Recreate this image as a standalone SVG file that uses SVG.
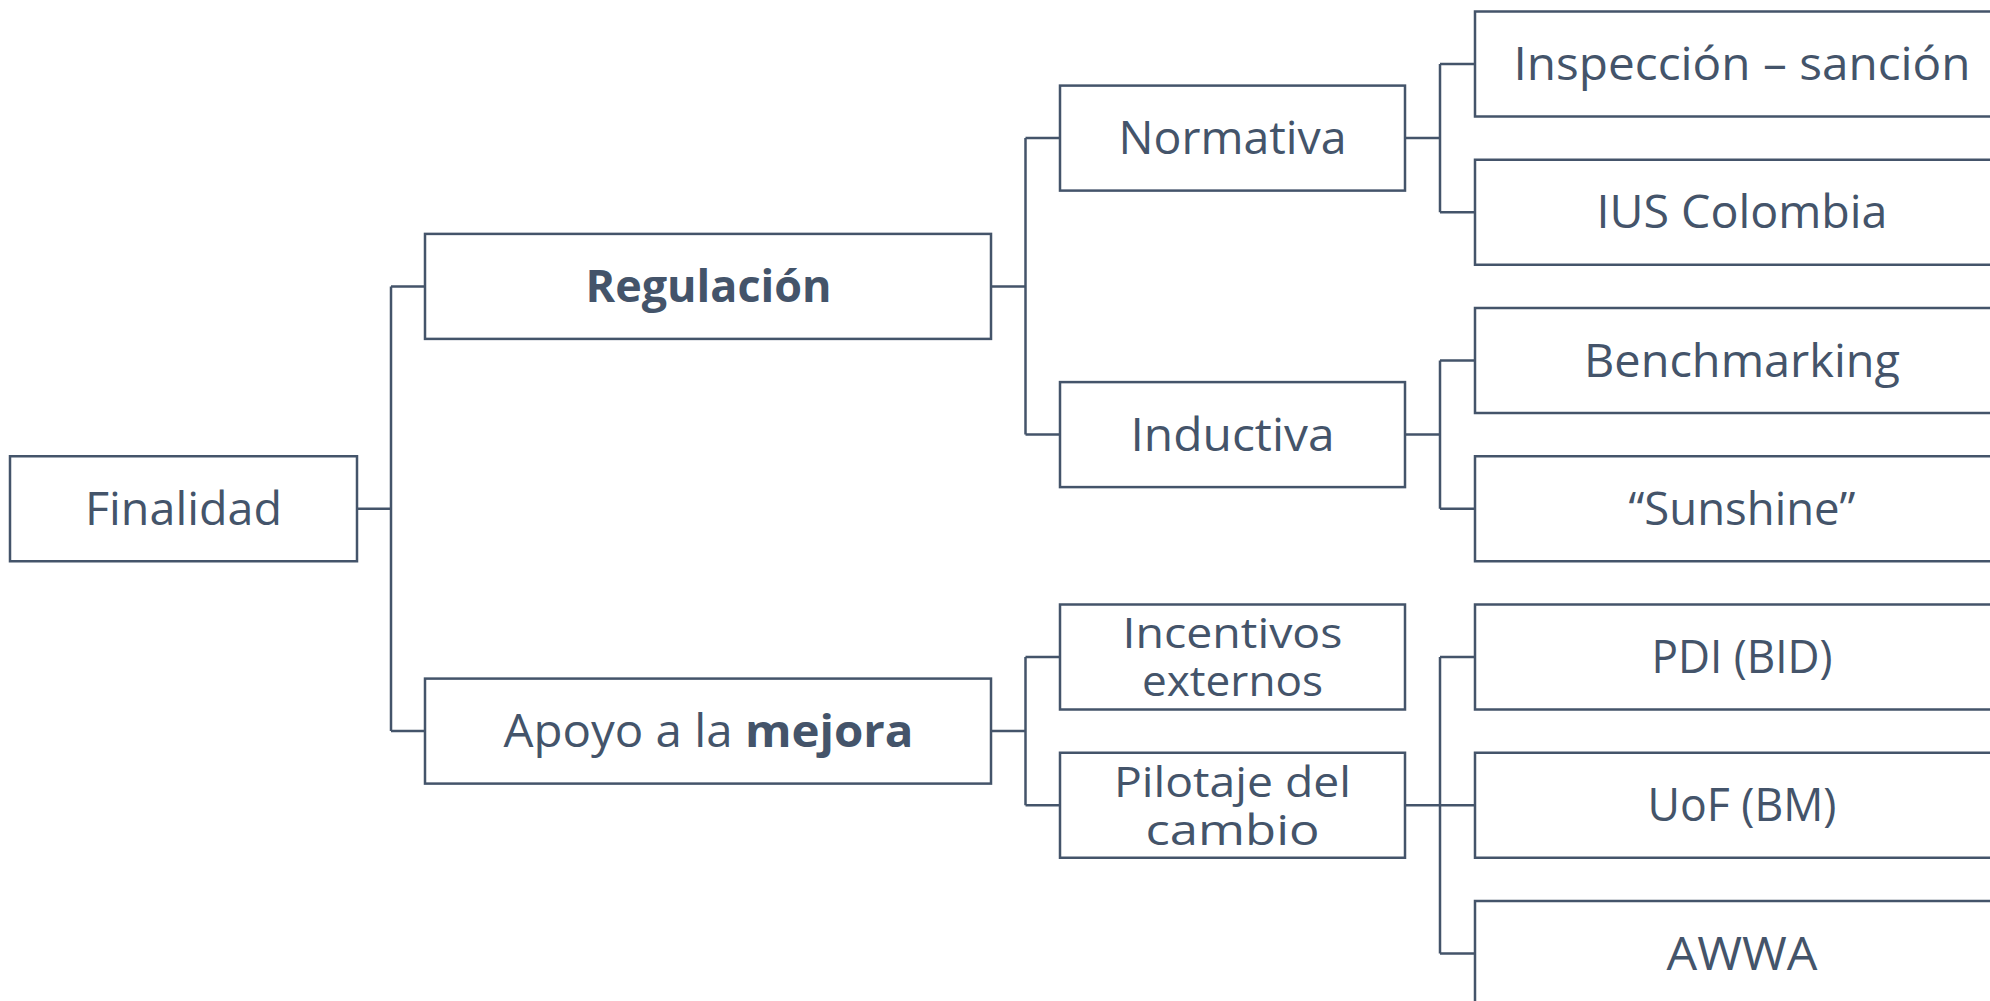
<svg xmlns="http://www.w3.org/2000/svg" width="1990" height="1001" viewBox="0 0 1990 1001">
<style>
.box{fill:#FFFFFF;stroke:#44546A;stroke-width:2.5}
.lbl{font-family:"Open Sans","Liberation Sans",sans-serif;font-size:45px;fill:#44546A;text-anchor:middle}
.two{font-size:42px}
.b{font-weight:700}
.con{fill:none;stroke:#44546A;stroke-width:2.5}
</style>
<rect width="1990" height="1001" fill="#FFFFFF"/>
<g id="connectors" class="con">
<path d="M357 508.75H391M391 286.4V731.1M391 286.4H425M391 731.1H425"/>
<path d="M991 286.4H1025.5M1025.5 138.1V434.6M1025.5 138.1H1060M1025.5 434.6H1060"/>
<path d="M991 731.1H1025.5M1025.5 657V805.25M1025.5 657H1060M1025.5 805.25H1060"/>
<path d="M1405 138.1H1440M1440 64V212.25M1440 64H1475M1440 212.25H1475"/>
<path d="M1405 434.6H1440M1440 360.5V508.75M1440 360.5H1475M1440 508.75H1475"/>
<path d="M1405 805.25H1440M1440 657V953.5M1440 657H1475M1440 805.25H1475M1440 953.5H1475"/>
</g>
<g id="finalidad"><rect class="box" x="10" y="456.25" width="347" height="105"/><text class="lbl" x="183.5" y="524.5" textLength="197" lengthAdjust="spacingAndGlyphs">Finalidad</text></g>
<g id="regulacion"><rect class="box" x="425" y="233.9" width="566" height="105"/><text class="lbl b" x="708.5" y="302" textLength="246" lengthAdjust="spacingAndGlyphs">Regulación</text></g>
<g id="apoyo"><rect class="box" x="425" y="678.6" width="566" height="105"/><text class="lbl" x="708.5" y="747" textLength="410" lengthAdjust="spacingAndGlyphs">Apoyo a la <tspan class="b">mejora</tspan></text></g>
<g id="normativa"><rect class="box" x="1060" y="85.6" width="345" height="105"/><text class="lbl" x="1232.5" y="154" textLength="228" lengthAdjust="spacingAndGlyphs">Normativa</text></g>
<g id="inductiva"><rect class="box" x="1060" y="382.1" width="345" height="105"/><text class="lbl" x="1232.5" y="450.5" textLength="204" lengthAdjust="spacingAndGlyphs">Inductiva</text></g>
<g id="incentivos"><rect class="box" x="1060" y="604.5" width="345" height="105"/><text class="lbl two" x="1232.5" y="647.5" textLength="220" lengthAdjust="spacingAndGlyphs">Incentivos</text><text class="lbl two" x="1232.5" y="696" textLength="181" lengthAdjust="spacingAndGlyphs">externos</text></g>
<g id="pilotaje"><rect class="box" x="1060" y="752.75" width="345" height="105"/><text class="lbl two" x="1232.5" y="796.5" textLength="237" lengthAdjust="spacingAndGlyphs">Pilotaje del</text><text class="lbl two" x="1232.5" y="845" textLength="174" lengthAdjust="spacingAndGlyphs">cambio</text></g>
<g id="inspeccion"><rect class="box" x="1475" y="11.5" width="540" height="105"/><text class="lbl" x="1742" y="80" textLength="457" lengthAdjust="spacingAndGlyphs">Inspección – sanción</text></g>
<g id="ius"><rect class="box" x="1475" y="159.75" width="540" height="105"/><text class="lbl" x="1742" y="228" textLength="291" lengthAdjust="spacingAndGlyphs">IUS Colombia</text></g>
<g id="benchmarking"><rect class="box" x="1475" y="308" width="540" height="105"/><text class="lbl" x="1742" y="376.5" textLength="316" lengthAdjust="spacingAndGlyphs">Benchmarking</text></g>
<g id="sunshine"><rect class="box" x="1475" y="456.25" width="540" height="105"/><text class="lbl" x="1742" y="524.5" textLength="227" lengthAdjust="spacingAndGlyphs">“Sunshine”</text></g>
<g id="pdi"><rect class="box" x="1475" y="604.5" width="540" height="105"/><text class="lbl" x="1742" y="673" textLength="181" lengthAdjust="spacingAndGlyphs">PDI (BID)</text></g>
<g id="uof"><rect class="box" x="1475" y="752.75" width="540" height="105"/><text class="lbl" x="1742" y="821" textLength="189" lengthAdjust="spacingAndGlyphs">UoF (BM)</text></g>
<g id="awwa"><rect class="box" x="1475" y="901" width="540" height="105"/><text class="lbl" x="1742" y="969.5" textLength="151" lengthAdjust="spacingAndGlyphs">AWWA</text></g>
</svg>
